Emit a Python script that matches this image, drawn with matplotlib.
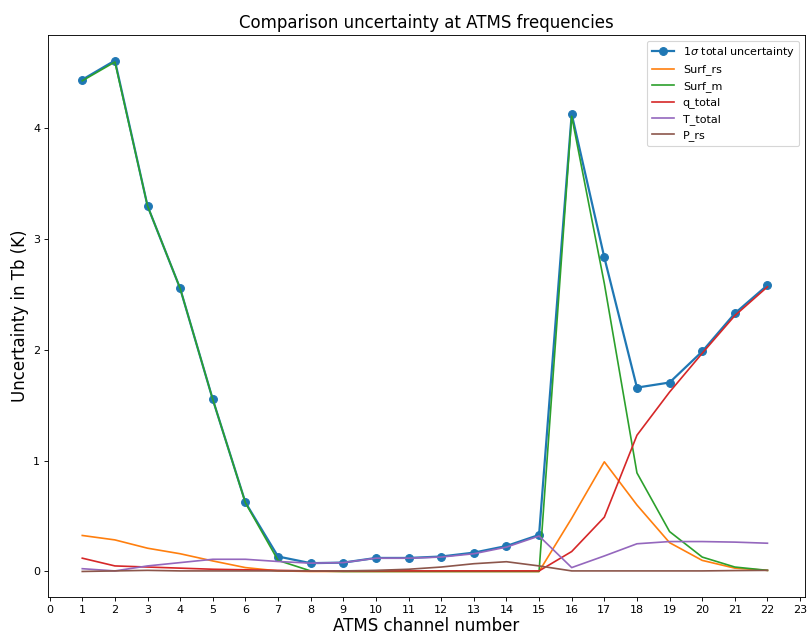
import matplotlib
matplotlib.use('Agg')
import matplotlib.pyplot as plt

channels = list(range(1, 23))

total = [4.44, 4.613, 3.30, 2.555, 1.553, 0.623, 0.135, 0.075, 0.08, 0.122, 0.122, 0.135,
         0.17, 0.23, 0.33, 4.13, 2.835, 1.66, 1.706, 1.986, 2.33, 2.585]
surf_rs = [0.325, 0.285, 0.21, 0.16, 0.095, 0.035, 0.005, 0.0, 0.0, 0.0, 0.0, 0.0,
           0.0, 0.0, 0.0, 0.48, 0.99, 0.6, 0.26, 0.1, 0.03, 0.01]
surf_m = [4.43, 4.60, 3.30, 2.555, 1.553, 0.62, 0.10, 0.005, 0.0, 0.0, 0.0, 0.0,
          0.0, 0.0, 0.0, 4.11, 2.6, 0.89, 0.36, 0.13, 0.04, 0.01]
q_total = [0.12, 0.05, 0.04, 0.03, 0.02, 0.015, 0.01, 0.005, 0.005, 0.005, 0.005, 0.005,
           0.005, 0.005, 0.005, 0.18, 0.49, 1.23, 1.62, 1.97, 2.31, 2.57]
t_total = [0.025, 0.005, 0.05, 0.08, 0.11, 0.11, 0.09, 0.075, 0.08, 0.12, 0.12, 0.13,
           0.16, 0.22, 0.32, 0.035, 0.14, 0.25, 0.27, 0.27, 0.265, 0.255]
p_rs = [0.0, 0.005, 0.01, 0.005, 0.005, 0.005, 0.005, 0.005, 0.005, 0.01, 0.02, 0.04,
        0.07, 0.088, 0.05, 0.005, 0.005, 0.005, 0.005, 0.005, 0.008, 0.01]

# original looks like a 10x8 figure saved at 80 dpi
fig, ax = plt.subplots(figsize=(807 / 80, 636 / 80), dpi=80)
fig.subplots_adjust(left=0.0595, right=0.9975, top=0.945, bottom=0.0613)

ax.plot(channels, total, marker='o', linewidth=2, markersize=7, color='tab:blue', label=r'1$\sigma$ total uncertainty')
ax.plot(channels, surf_rs, color='tab:orange', label='Surf_rs')
ax.plot(channels, surf_m, color='tab:green', label='Surf_m')
ax.plot(channels, q_total, color='tab:red', label='q_total')
ax.plot(channels, t_total, color='tab:purple', label='T_total')
ax.plot(channels, p_rs, color='tab:brown', label='P_rs')

ax.set_xticks(range(0, 24))
ax.set_xlim(-0.05, 23.15)
ax.set_title('Comparison uncertainty at ATMS frequencies', fontsize=15)
ax.set_xlabel('ATMS channel number', fontsize=15, labelpad=2)
ax.set_ylabel('Uncertainty in Tb (K)', fontsize=15)
ax.legend(loc='upper right')

plt.savefig('out.png', dpi=80)
plt.close()
